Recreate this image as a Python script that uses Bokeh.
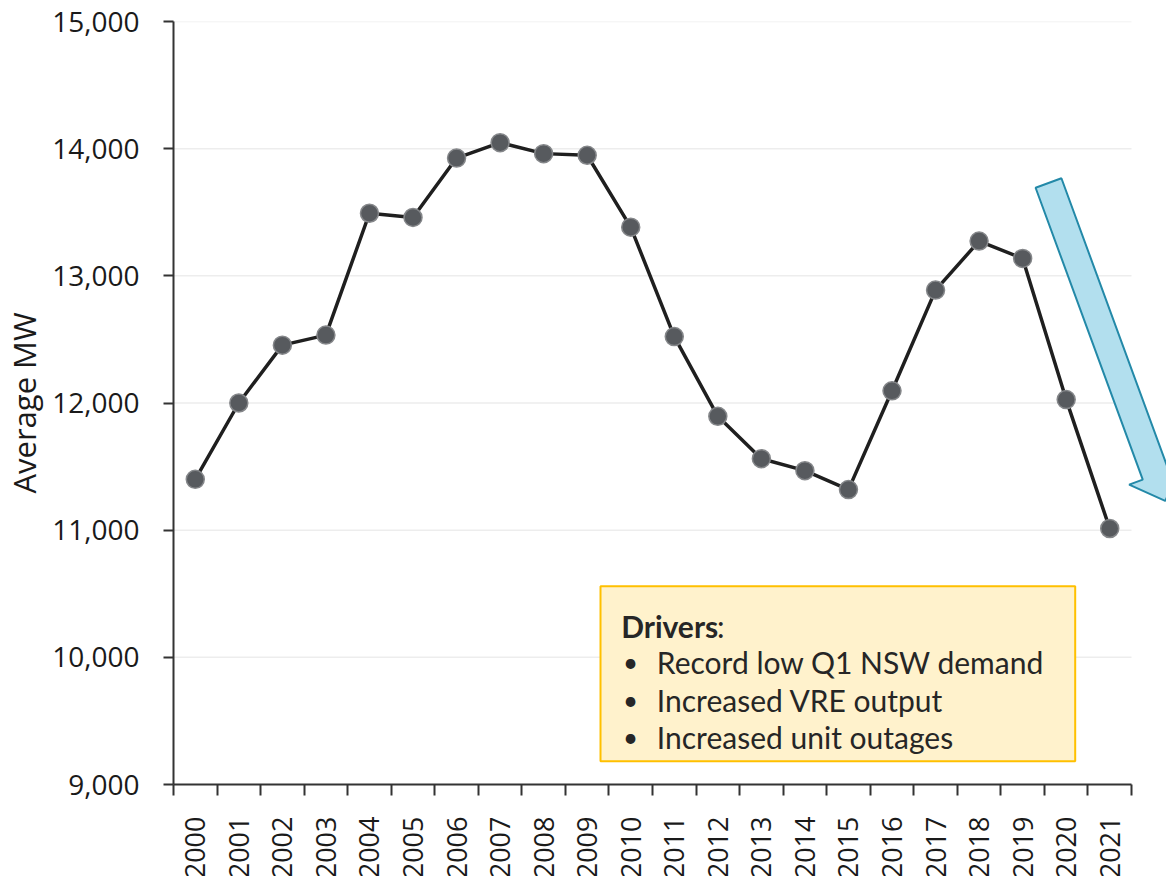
import math
from bokeh.plotting import figure
from bokeh.models import (FixedTicker, PolyAnnotation, BoxAnnotation, Label,
                          NumeralTickFormatter, Range1d)
from bokeh.embed import file_html
from bokeh.resources import INLINE

# ---------------- data ----------------
years = list(range(2000, 2022))
avg_mw = [11400, 12000, 12455, 12534, 13492, 13459, 13926, 14047, 13961, 13948,
          13383, 12522, 11895, 11562, 11468, 11319, 12096, 12888, 13273, 13137,
          12027, 11013]
y_ticks = [9000, 10000, 11000, 12000, 13000, 14000, 15000]
y_label = "Average MW"
box_title = "Drivers"
box_items = ["Record low Q1 NSW demand", "Increased VRE output", "Increased unit outages"]

# ---------------- layout ----------------
AXIS_W, FRAME_H = 958, 763          # data area width (years) and height in px
X0, X1 = years[0] - 0.5, years[-1] + 0.5
Y0, Y1 = y_ticks[0], y_ticks[-1]
PXX = AXIS_W / (X1 - X0)             # px per year
PXY = FRAME_H / (Y1 - Y0)            # px per MW
LEFT = 166
FRAME_W = 1159 - LEFT                # frame runs to the right edge (room for arrow)
X_END = X0 + FRAME_W / PXX

p = figure(frame_width=FRAME_W, frame_height=FRAME_H,
           x_range=Range1d(X0, X_END), y_range=Range1d(Y0, Y1),
           output_backend="svg", toolbar_location=None,
           min_border_left=LEFT, min_border_top=21, min_border_right=0,
           min_border_bottom=0)
p.outline_line_color = None
p.background_fill_color = "white"

# axes
ax = p.xaxis[0]
ax.bounds = (X0, X1)
ax.ticker = FixedTicker(ticks=years, minor_ticks=[y - 0.5 for y in years] + [years[-1] + 0.5])
ax.major_tick_out = 0
ax.major_tick_in = 0
ax.minor_tick_out = 11
ax.minor_tick_in = 0
ax.minor_tick_line_color = "#333333"
ax.minor_tick_line_width = 2
ax.axis_line_color = "#333333"
ax.axis_line_width = 2
ax.major_label_orientation = math.pi / 2
ax.major_label_standoff = 21
ax.major_label_text_font = "Open Sans"
ax.major_label_text_font_size = "27px"
ax.major_label_text_color = "#1a1a1a"

ay = p.yaxis[0]
ay.ticker = FixedTicker(ticks=y_ticks)
ay.formatter = NumeralTickFormatter(format="0,0")
ay.major_tick_out = 10
ay.major_tick_in = 0
ay.minor_tick_out = 0
ay.minor_tick_in = 0
ay.major_tick_line_color = "#333333"
ay.major_tick_line_width = 2
ay.axis_line_color = "#333333"
ay.axis_line_width = 2
ay.major_label_standoff = 24
ay.major_label_text_font = "Open Sans"
ay.major_label_text_font_size = "28px"
ay.major_label_text_color = "#1a1a1a"
ay.axis_label = y_label
ay.axis_label_text_font = "Open Sans"
ay.axis_label_text_font_size = "31px"
ay.axis_label_text_font_style = "normal"
ay.axis_label_text_color = "#1a1a1a"
ay.axis_label_standoff = 4

# gridlines limited to the year span
p.xgrid.visible = False
p.ygrid.visible = False
grid_y = y_ticks[1:]
p.segment(x0=[X0] * len(grid_y), x1=[X1] * len(grid_y), y0=grid_y, y1=grid_y,
          line_color="#EDEDED", line_width=1.5)

# series
p.line(years, avg_mw, line_color="#1f1f1f", line_width=3.5)
p.scatter(years, avg_mw, size=18, fill_color="#575A5E", line_color="#85878A", line_width=1.5)

# ---------------- arrow ----------------
def to_px(x, y):
    return (x * PXX, -y * PXY)

def to_data(px, py):
    return (px / PXX, -py / PXY)

tail = to_px(2019.594, 13730)
tip = to_px(2022.274, 11230)
shaft_w, head_w, head_len = 27.5, 56.5, 27.7
dx, dy = tip[0] - tail[0], tip[1] - tail[1]
L = math.hypot(dx, dy)
ux, uy = dx / L, dy / L
nx, ny = -uy, ux
base = L - head_len

def pt(a, b):
    return to_data(tail[0] + a * ux + b * nx, tail[1] + a * uy + b * ny)

poly = [pt(0, -shaft_w / 2), pt(base, -shaft_w / 2), pt(base, -head_w / 2), pt(L, 0),
        pt(base, head_w / 2), pt(base, shaft_w / 2), pt(0, shaft_w / 2)]
p.add_layout(PolyAnnotation(xs=[q[0] for q in poly], ys=[q[1] for q in poly],
                            fill_color="#B2DFEE", fill_alpha=1.0,
                            line_color="#2389A8", line_alpha=1.0, line_width=2))

# ---------------- drivers box ----------------
p.add_layout(BoxAnnotation(left=2009.306, right=2020.207, top=10559, bottom=9183,
                           fill_color="#FFF2CC", fill_alpha=1.0,
                           line_color="#FFC000", line_alpha=1.0, line_width=2))
FONT = "Lato"
FS = "30px"
TC = "#262626"
p.add_layout(Label(x=2009.78, y=10250, text=box_title, text_font=FONT, text_font_size=FS,
                   text_font_style="bold", text_baseline="alphabetic", text_color=TC))
p.add_layout(Label(x=2011.98, y=10250, text=":", text_font=FONT, text_font_size=FS,
                   text_baseline="alphabetic", text_color=TC))
item_y = [9962, 9661, 9372]
for txt, yy in zip(box_items, item_y):
    p.add_layout(Label(x=2009.82, y=yy, text="\u2022", text_font=FONT, text_font_size="26px",
                       text_baseline="alphabetic", text_color=TC))
    p.add_layout(Label(x=2010.60, y=yy, text=txt, text_font=FONT, text_font_size=FS,
                       text_baseline="alphabetic", text_color=TC))

open("out.html", "w").write(file_html(p, INLINE))
